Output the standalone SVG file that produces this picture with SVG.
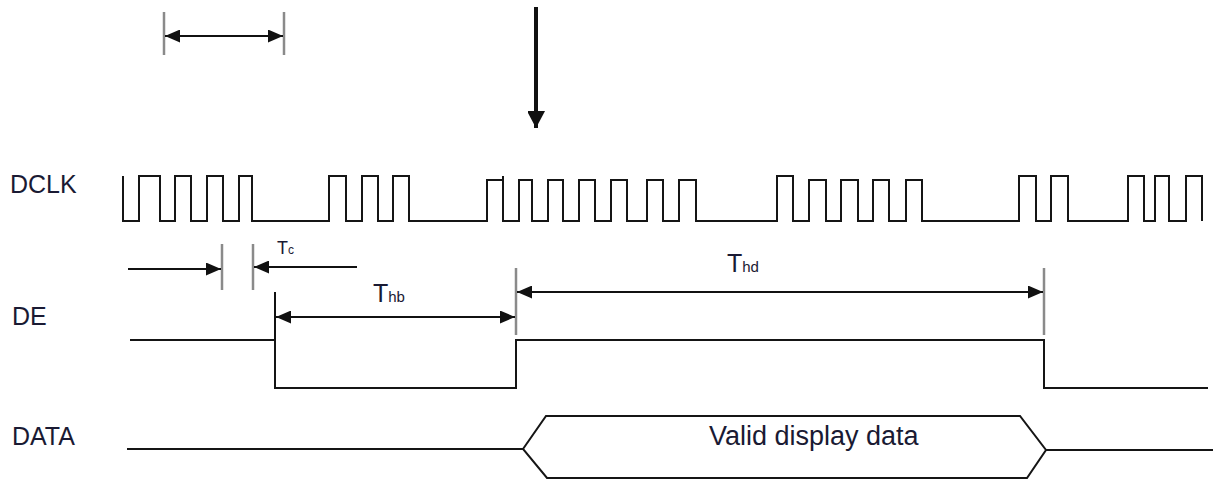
<svg xmlns="http://www.w3.org/2000/svg" width="1213" height="480" viewBox="0 0 1213 480">
<style>
.bg{fill:#ffffff}
.lbl{font-family:"Liberation Sans",Arial,sans-serif;fill:#1a1a33}
.sig{fill:none;stroke:#151515;stroke-width:2;stroke-linejoin:miter}
.tick{stroke:#8a8a8a;stroke-width:2.5;fill:none}
.dim{stroke:#111;stroke-width:2;fill:none}
</style>
<defs>
<marker id="ah" viewBox="0 0 15 13" refX="15" refY="6.5" markerWidth="15" markerHeight="13" markerUnits="userSpaceOnUse" orient="auto-start-reverse">
<path d="M0,0 L15,6.5 L0,13 z" fill="#111"/>
</marker>
<marker id="bigah" viewBox="0 0 18 17" refX="17" refY="9" markerWidth="18" markerHeight="17" markerUnits="userSpaceOnUse" orient="auto">
<path d="M0,0 L17,9 L0,18 z" fill="#111"/>
</marker>
</defs>
<rect class="bg" x="0" y="0" width="1213" height="480"/>

<g id="label-dclk"><text class="lbl" x="10" y="193" font-size="25">DCLK</text></g>
<g id="label-de"><text class="lbl" x="12" y="325" font-size="25">DE</text></g>
<g id="label-data"><text class="lbl" x="12" y="445" font-size="25">DATA</text></g>

<g id="signal-dclk">
<path class="sig" d="M123,176 V221 H139 V176 H160 V221 H175 V176 H191 V221 H207 V176 H223 V221 H239 V176 H252 V221 H329 V176 H346 V221 H362 V176 H378 V221 H393 V176 H409 V221 H487 V180 H503 V176 V221 H519 V180 H532 V221 H548 V180 H563 V221 H579 V180 H595 V221 H611 V180 H627 V221 H647 V180 H663 V221 H679 V180 H696 V221 H777 V176 H793 V221 H809 V180 H826 V221 H841 V180 H858 V221 H873 V180 H889 V221 H906 V180 H922 V221 H1019 V176 H1036 V221 H1051 V176 H1068 V221 H1128 V176 H1144 V221 H1155 V176 H1169 V221 H1186 V176 H1202 V221"/>
</g>

<g id="signal-de">
<path class="sig" d="M130,340 H275 V388 H516 V340 H1044 V388 H1208"/>
</g>

<g id="signal-data">
<path class="sig" d="M127,449 H523"/>
<path class="sig" d="M523,449 L546,416 H1020 L1046,450 L1027,478 H547 Z"/>
<path class="sig" d="M1046,450 H1213"/>
<text class="lbl" x="709" y="445" font-size="27">Valid display data</text>
</g>

<g id="ticks">
<line class="tick" x1="164" y1="12" x2="164" y2="55"/>
<line class="tick" x1="284" y1="12" x2="284" y2="55"/>
<line class="tick" x1="222" y1="244" x2="222" y2="290"/>
<line class="tick" x1="253" y1="244" x2="253" y2="290"/>
<line class="dim" x1="275" y1="292" x2="275" y2="340"/>
<line class="tick" x1="516" y1="268" x2="516" y2="335"/>
<line class="tick" x1="1044" y1="268" x2="1044" y2="335"/>
</g>

<g id="timing-labels">
<text class="lbl" x="277" y="254" font-size="18">T<tspan font-size="12">c</tspan></text>
<text class="lbl" x="373" y="302" font-size="25">T<tspan font-size="15">hb</tspan></text>
<text class="lbl" x="727" y="272" font-size="25">T<tspan font-size="15">hd</tspan></text>
</g>

<g id="connectors">
<line class="dim" x1="165" y1="36" x2="283" y2="36" marker-start="url(#ah)" marker-end="url(#ah)"/>
<line x1="536" y1="7" x2="536" y2="128" stroke="#111" stroke-width="4" marker-end="url(#bigah)"/>
<line class="dim" x1="128" y1="269" x2="221" y2="269" marker-end="url(#ah)"/>
<line class="dim" x1="357" y1="267" x2="254" y2="267" marker-end="url(#ah)"/>
<line class="dim" x1="276" y1="317" x2="515" y2="317" marker-start="url(#ah)" marker-end="url(#ah)"/>
<line class="dim" x1="517" y1="292" x2="1043" y2="292" marker-start="url(#ah)" marker-end="url(#ah)"/>
</g>
</svg>
